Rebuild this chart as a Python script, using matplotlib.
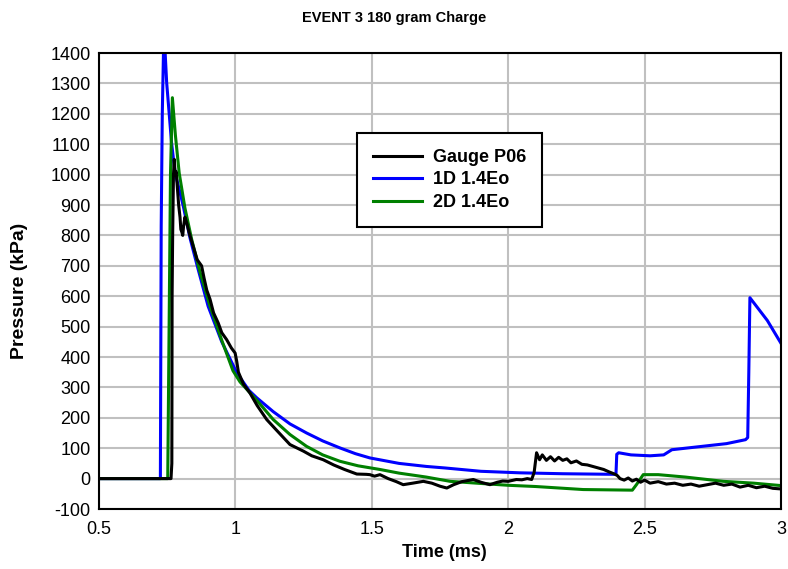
import matplotlib
matplotlib.use("Agg")
import matplotlib.pyplot as plt

plt.rcParams['font.family'] = ['Liberation Sans', 'DejaVu Sans']
plt.rcParams['axes.unicode_minus'] = False

# Gauge P06 (measured)
gauge_t = [0.5, 0.764, 0.767, 0.768, 0.770, 0.773, 0.776, 0.779, 0.783, 0.787, 0.792, 0.797,
           0.800, 0.804, 0.807, 0.810, 0.815, 0.822, 0.83, 0.84, 0.85, 0.86, 0.876, 0.885,
           0.895, 0.907, 0.92, 0.937, 0.95, 0.968, 0.985, 0.999, 1.005, 1.011, 1.03, 1.053,
           1.08, 1.115, 1.15, 1.2, 1.25, 1.28, 1.322, 1.36, 1.4, 1.445, 1.48, 1.493, 1.51,
           1.53, 1.56, 1.59, 1.615, 1.65, 1.689, 1.72, 1.75, 1.775, 1.8, 1.83, 1.872, 1.9,
           1.933, 1.96, 1.98, 2.0, 2.02, 2.03, 2.05, 2.07, 2.086, 2.095, 2.104, 2.115, 2.125,
           2.14, 2.155, 2.17, 2.185, 2.2, 2.215, 2.23, 2.25, 2.27, 2.29, 2.31, 2.33, 2.35,
           2.37, 2.39, 2.40, 2.41, 2.425, 2.44, 2.455, 2.47, 2.485, 2.5, 2.52, 2.55, 2.58,
           2.61, 2.64, 2.67, 2.7, 2.73, 2.76, 2.79, 2.82, 2.85, 2.88, 2.91, 2.94, 2.97, 3.0]
gauge_p = [0, 0, 50, 600, 800, 1000, 1050, 1000, 1010, 960, 900, 860,
           820, 810, 800, 830, 860, 840, 810, 780, 750, 720, 700, 660,
           620, 590, 545, 512, 480, 457, 430, 413, 385, 350, 310, 282,
           240, 194, 160, 112, 90, 75, 62, 45, 30, 15, 14, 13, 8,
           13, 0, -10, -20, -15, -9, -15, -25, -31, -20, -10, -3, -12,
           -20, -12, -8, -9, -5, -3, -4, 0, -3, 20, 85, 62, 78,
           60, 72, 58, 70, 60, 65, 52, 58, 47, 45, 40, 35, 30,
           22, 15, 10, 0, -5, 2, -8, -2, -12, -5, -15, -10, -18,
           -15, -22, -18, -25, -20, -15, -22, -18, -28, -22, -30, -25, -32, -34]

# 1D 1.4Eo
d1_t = [0.5, 0.725, 0.728, 0.732, 0.738, 0.748, 0.766, 0.779, 0.80, 0.809, 0.834, 0.86,
        0.90, 0.95, 1.005, 1.05, 1.078, 1.139, 1.2, 1.261, 1.32, 1.383, 1.44, 1.493, 1.6,
        1.7, 1.768, 1.9, 2.043, 2.2, 2.395, 2.398, 2.405, 2.45, 2.52, 2.57, 2.6, 2.7, 2.8,
        2.87, 2.878, 2.882, 2.886, 2.95, 3.0]
d1_p = [0, 0, 830, 1200, 1480, 1303, 1104, 1005, 930, 896, 790, 700,
        567, 450, 348, 290, 266, 220, 180, 150, 124, 101, 82, 68, 50,
        40, 35, 24, 19, 16, 14, 80, 85, 78, 75, 78, 95, 105, 115,
        128, 135, 350, 595, 520, 445]

# 2D 1.4Eo
d2_t = [0.5, 0.752, 0.756, 0.762, 0.769, 0.78, 0.794, 0.815, 0.84, 0.87, 0.907, 0.95,
        0.991, 1.017, 1.078, 1.139, 1.2, 1.261, 1.32, 1.383, 1.45, 1.53, 1.6, 1.7, 1.787,
        1.9, 2.0, 2.1, 2.275, 2.455, 2.47, 2.495, 2.55, 2.65, 2.789, 2.9, 3.0]
d2_p = [0, 0, 400, 1000, 1253, 1130, 1005, 890, 786, 680, 567, 455,
        355, 318, 258, 194, 145, 106, 78, 57, 42, 30, 18, 5, -9,
        -16, -22, -26, -36, -38, -20, 13, 13, 5, -9, -15, -23]

fig = plt.figure(figsize=(7.88, 5.69), dpi=100)
ax = fig.add_axes([99/788, 1-509/569, (781-99)/788, (509-53)/569])

ax.plot(gauge_t, gauge_p, color='black', lw=2.2, label='Gauge P06', zorder=3)
ax.plot(d1_t, d1_p, color='#0000ff', lw=2.2, label='1D 1.4Eo', zorder=2)
ax.plot(d2_t, d2_p, color='#008000', lw=2.2, label='2D 1.4Eo', zorder=2.5)

ax.set_xlim(0.5, 3)
ax.set_ylim(-100, 1400)
ax.set_xticks([0.5, 1, 1.5, 2, 2.5, 3])
ax.set_xticklabels(['0.5', '1', '1.5', '2', '2.5', '3'])
ax.set_yticks(range(-100, 1401, 100))
ax.grid(True, color='#c0c0c0', lw=1.5)
ax.set_axisbelow(True)
ax.tick_params(length=0, labelsize=13)
ax.tick_params(axis='x', pad=9)
ax.tick_params(axis='y', pad=6)
for s in ax.spines.values():
    s.set_linewidth(1.5)

ax.set_xlabel('Time (ms)', fontsize=13, fontweight='bold')
ax.set_ylabel('Pressure (kPa)', fontsize=14, fontweight='bold')
ax.xaxis.set_label_coords(0.506, -0.077)
ax.yaxis.set_label_coords(-0.104, 0.478)
fig.text(394/788, 1-18/569, 'EVENT 3 180 gram Charge', ha='center', va='center',
         fontsize=10.5, fontweight='bold')

leg = ax.legend(loc='upper left', bbox_to_anchor=(0.378, 0.825), fancybox=False,
                edgecolor='black', framealpha=1, prop={'weight': 'bold', 'size': 13},
                handlelength=2.7, handletextpad=0.6, borderpad=0.9, labelspacing=0.3,
                borderaxespad=0)
leg.get_frame().set_linewidth(1.5)

fig.savefig('out.png', dpi=100)
